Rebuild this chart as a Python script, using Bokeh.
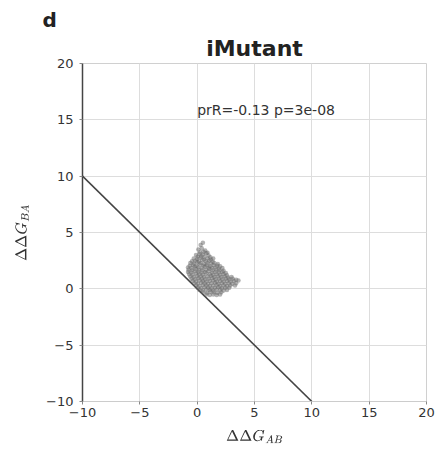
from bokeh.plotting import figure
from bokeh.models import Label, FixedTicker, Range1d, Title, TeX
from bokeh.embed import file_html
from bokeh.resources import INLINE

# data
ddg_ab = [0.3,0.5,
          0.1,0.4,0.7,
          0.25,0.55,0.9,
          -0.1,0.2,0.5,0.8,1.0,
          0.05,0.35,0.65,1.15,
          -0.3,0.0,0.3,0.6,0.9,1.2,1.4,
          -0.45,-0.15,0.15,0.45,0.75,1.05,1.35,
          -0.6,-0.3,0.0,0.3,0.6,0.9,1.2,1.5,1.8,
          -0.65,-0.35,-0.05,0.25,0.55,0.85,1.15,1.45,1.75,2.0,
          -0.8,-0.5,-0.2,0.1,0.4,0.7,1.0,1.3,1.6,1.9,2.2,
          -0.75,-0.45,-0.15,0.15,0.45,0.75,1.05,1.35,1.65,1.95,2.3,
          -0.8,-0.5,-0.2,0.1,0.4,0.7,1.0,1.3,1.6,1.9,2.2,2.5,
          -0.7,-0.4,-0.1,0.2,0.5,0.8,1.1,1.4,1.7,2.0,2.3,2.6,
          -0.6,-0.3,0.0,0.3,0.6,0.9,1.2,1.5,1.8,2.1,2.4,2.7,3.0,
          -0.5,-0.2,0.1,0.4,0.7,1.0,1.3,1.6,1.9,2.2,2.5,2.8,3.1,3.4,
          -0.4,-0.1,0.2,0.5,0.8,1.1,1.4,1.7,2.0,2.3,2.6,2.9,3.2,3.6,
          -0.25,0.05,0.35,0.65,0.95,1.25,1.55,1.85,2.15,2.45,2.75,3.05,3.4,
          -0.1,0.2,0.5,0.8,1.1,1.4,1.7,2.0,2.3,2.6,2.9,3.3,
          0.05,0.35,0.65,0.95,1.25,1.55,1.85,2.15,2.45,2.8,
          0.2,0.5,0.8,1.1,1.4,1.7,2.0,2.3,2.6,
          0.5,0.85,1.15,1.45,1.75,2.1,
          0.8,1.1,1.4,1.7,2.0]
ddg_ba = [3.9,4.1,
          3.5,3.6,3.4,
          3.25,3.3,3.2,
          3.0,3.1,3.05,3.15,2.95,
          2.85,2.9,2.85,2.8,
          2.7,2.65,2.75,2.6,2.7,2.6,2.7,
          2.45,2.5,2.45,2.55,2.45,2.5,2.4,
          2.3,2.25,2.35,2.3,2.2,2.3,2.25,2.3,2.2,
          2.05,2.1,2.05,2.15,2.05,2.1,2.0,2.1,2.05,2.0,
          1.9,1.85,1.95,1.9,1.85,1.95,1.9,1.85,1.9,1.8,1.85,
          1.7,1.65,1.75,1.7,1.65,1.7,1.75,1.65,1.7,1.65,1.6,
          1.5,1.45,1.55,1.5,1.45,1.5,1.55,1.45,1.5,1.45,1.5,1.4,
          1.3,1.25,1.35,1.3,1.25,1.35,1.3,1.25,1.3,1.25,1.3,1.2,
          1.1,1.05,1.15,1.1,1.05,1.1,1.15,1.05,1.1,1.05,1.1,1.0,1.05,
          0.9,0.85,0.95,0.9,0.85,0.9,0.95,0.85,0.9,0.85,0.9,0.85,0.9,0.8,
          0.7,0.65,0.75,0.7,0.65,0.7,0.75,0.65,0.7,0.65,0.7,0.65,0.7,0.75,
          0.5,0.45,0.55,0.5,0.45,0.5,0.55,0.45,0.5,0.45,0.5,0.45,0.5,
          0.3,0.25,0.35,0.3,0.25,0.3,0.35,0.25,0.3,0.25,0.3,0.3,
          0.1,0.05,0.15,0.1,0.05,0.1,0.15,0.05,0.1,0.1,
          -0.1,-0.15,-0.05,-0.1,-0.15,-0.05,-0.1,-0.15,-0.1,
          -0.3,-0.35,-0.25,-0.3,-0.35,-0.3,
          -0.5,-0.55,-0.5,-0.55,-0.5]
line_x = [-10, 10]
line_y = [10, -10]
ticks = [-10, -5, 0, 5, 10, 15, 20]
annot = "prR=-0.13 p=3e-08"

p = figure(width=436, height=449, output_backend="svg", toolbar_location=None,
           x_range=Range1d(-10, 20), y_range=Range1d(-10, 20),
           min_border_left=82, min_border_right=10, min_border_top=63, min_border_bottom=48)
p.outline_line_color = "#d0d0d0"
p.background_fill_color = "white"

p.title.text = "d"
p.title.align = "left"
p.title.offset = -40
p.title.text_font = "DejaVu Sans"
p.title.text_font_style = "bold"
p.title.text_font_size = "20px"
p.title.text_color = "#222222"
p.title.standoff = 0
p.add_layout(Title(text="iMutant", align="center", text_font="DejaVu Sans",
                   text_font_style="bold", text_font_size="22px", text_color="#222222",
                   standoff=5),
             "above")

for ax in (p.xaxis[0], p.yaxis[0]):
    ax.ticker = FixedTicker(ticks=ticks)
    ax.major_label_text_font = "DejaVu Sans"
    ax.major_label_text_font_size = "13px"
    ax.major_label_text_color = "#333333"
    ax.minor_tick_line_color = None
    ax.major_tick_in = 0
    ax.major_tick_out = 3
    ax.major_tick_line_color = "#888888"
    ax.axis_label_text_font_size = "12px"
    ax.axis_label_text_color = "#333333"
    ax.axis_label_text_font_style = "normal"
p.xaxis[0].axis_label = TeX(text=r"\Delta\Delta G_{AB}")
p.yaxis[0].axis_label = TeX(text=r"\Delta\Delta G_{BA}")
p.xaxis[0].axis_label_standoff = 10
p.yaxis[0].axis_label_standoff = 14
p.yaxis[0].axis_line_color = "#444444"
p.yaxis[0].axis_line_width = 1.5
p.xaxis[0].axis_line_color = "#cccccc"
p.xaxis[0].major_label_standoff = 3
p.yaxis[0].major_label_standoff = 6
p.xgrid.grid_line_color = "#dddddd"
p.ygrid.grid_line_color = "#dddddd"

p.line(line_x, line_y, line_color="#444444", line_width=1.6)
p.scatter(ddg_ab, ddg_ba, size=4.5, fill_color="#666666", line_color=None,
          fill_alpha=0.5)

p.add_layout(Label(x=0.0, y=15.2, text=annot, text_font="DejaVu Sans",
                   text_font_size="14px", text_color="#333333"))

open("out.html", "w").write(file_html(p, INLINE))
